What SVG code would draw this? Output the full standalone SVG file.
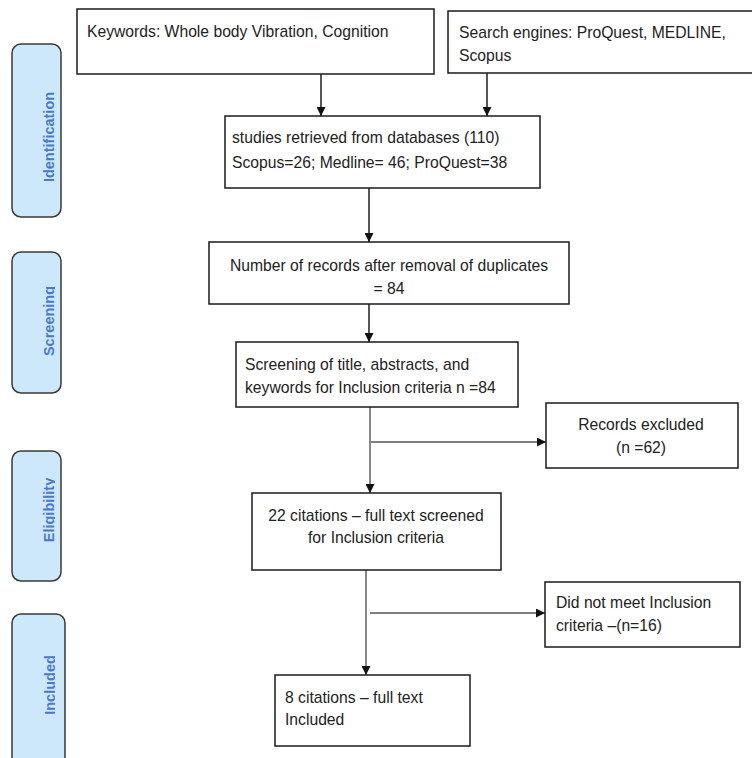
<svg xmlns="http://www.w3.org/2000/svg" width="752" height="758" viewBox="0 0 752 758">
<style>
.box{fill:#fff;stroke:#1a1a1a;stroke-width:1.5}
.phase{fill:#cde8fb;stroke:#3a3a3a;stroke-width:1.5}
.t{font-family:"Liberation Sans",Arial,sans-serif;font-size:15.7px;fill:#222}
.c{text-anchor:middle}
.pl{font-family:"Liberation Sans",Arial,sans-serif;font-size:14.5px;font-weight:700;fill:#4a78cc;text-anchor:middle}
.ln{fill:none;stroke:#111;stroke-width:1.4}
.lg{fill:none;stroke:#555;stroke-width:1.4}
</style>
<defs>
<marker id="ah" viewBox="0 0 10 10" refX="10" refY="5" markerWidth="9" markerHeight="9" markerUnits="userSpaceOnUse" orient="auto">
<path d="M0,0 L10,5 L0,10 z" fill="#111"/>
</marker>
<clipPath id="lblclip"><rect x="0" y="0" width="55" height="758"/></clipPath>
</defs>
<rect width="752" height="758" fill="#fff"/>

<g id="phase-identification">
<rect class="phase" x="12" y="44" width="49" height="173" rx="9"/>
<g clip-path="url(#lblclip)"><text class="pl" transform="translate(54,137) rotate(-90)">Identification</text></g>
</g>
<g id="phase-screening">
<rect class="phase" x="12" y="252" width="49" height="141" rx="9"/>
<g clip-path="url(#lblclip)"><text class="pl" transform="translate(54,321) rotate(-90)">Screening</text></g>
</g>
<g id="phase-eligibility">
<rect class="phase" x="12" y="451" width="49" height="130" rx="9"/>
<g clip-path="url(#lblclip)"><text class="pl" transform="translate(54,510) rotate(-90)">Eligibility</text></g>
</g>
<g id="phase-included">
<rect class="phase" x="12" y="614" width="53" height="160" rx="9"/>
<g clip-path="url(#lblclip)"><text class="pl" transform="translate(55,685) rotate(-90)">Included</text></g>
</g>

<g id="connectors">
<line class="ln" x1="321" y1="74" x2="321" y2="116" marker-end="url(#ah)"/>
<line class="ln" x1="487" y1="73" x2="487" y2="116" marker-end="url(#ah)"/>
<line class="ln" x1="369" y1="188" x2="369" y2="242" marker-end="url(#ah)"/>
<line class="ln" x1="369" y1="304" x2="369" y2="342" marker-end="url(#ah)"/>
<line class="lg" x1="370" y1="407" x2="370" y2="493" marker-end="url(#ah)"/>
<line class="lg" x1="371" y1="442" x2="546" y2="442" marker-end="url(#ah)"/>
<line class="lg" x1="366" y1="570" x2="366" y2="675" marker-end="url(#ah)"/>
<line class="lg" x1="370" y1="613" x2="545" y2="613" marker-end="url(#ah)"/>
</g>

<g id="keywords">
<rect class="box" x="77" y="9" width="357" height="65"/>
<text class="t" x="87" y="37">Keywords:  Whole body Vibration, Cognition</text>
</g>
<g id="search-engines">
<rect class="box" x="448" y="11" width="320" height="62"/>
<text class="t" x="459" y="38">Search engines: ProQuest, MEDLINE,</text>
<text class="t" x="459" y="61">Scopus</text>
</g>
<g id="studies-retrieved">
<rect class="box" x="225" y="116" width="315" height="72"/>
<text class="t" x="232" y="143">studies retrieved from databases (110)</text>
<text class="t" x="232" y="168">Scopus=26; Medline= 46; ProQuest=38</text>
</g>
<g id="after-duplicates">
<rect class="box" x="209" y="242" width="360" height="62"/>
<text class="t c" x="389" y="271">Number of records after removal of duplicates</text>
<text class="t c" x="389" y="294">= 84</text>
</g>
<g id="screening">
<rect class="box" x="236" y="342" width="282" height="65"/>
<text class="t" x="245" y="370">Screening of title, abstracts, and</text>
<text class="t" x="245" y="393">keywords for Inclusion criteria n =84</text>
</g>
<g id="records-excluded">
<rect class="box" x="546" y="403" width="192" height="65"/>
<text class="t c" x="641" y="430">Records excluded</text>
<text class="t c" x="641" y="453">(n =62)</text>
</g>
<g id="full-text-screened">
<rect class="box" x="252" y="493" width="249" height="77"/>
<text class="t c" x="376" y="521">22 citations – full text screened</text>
<text class="t c" x="376" y="543">for Inclusion criteria</text>
</g>
<g id="not-meet">
<rect class="box" x="545" y="582" width="195" height="65"/>
<text class="t" x="556" y="608">Did not meet Inclusion</text>
<text class="t" x="556" y="631">criteria –(n=16)</text>
</g>
<g id="included-final">
<rect class="box" x="275" y="675" width="195" height="71"/>
<text class="t" x="285" y="703">8 citations – full text</text>
<text class="t" x="285" y="725">Included</text>
</g>
</svg>
